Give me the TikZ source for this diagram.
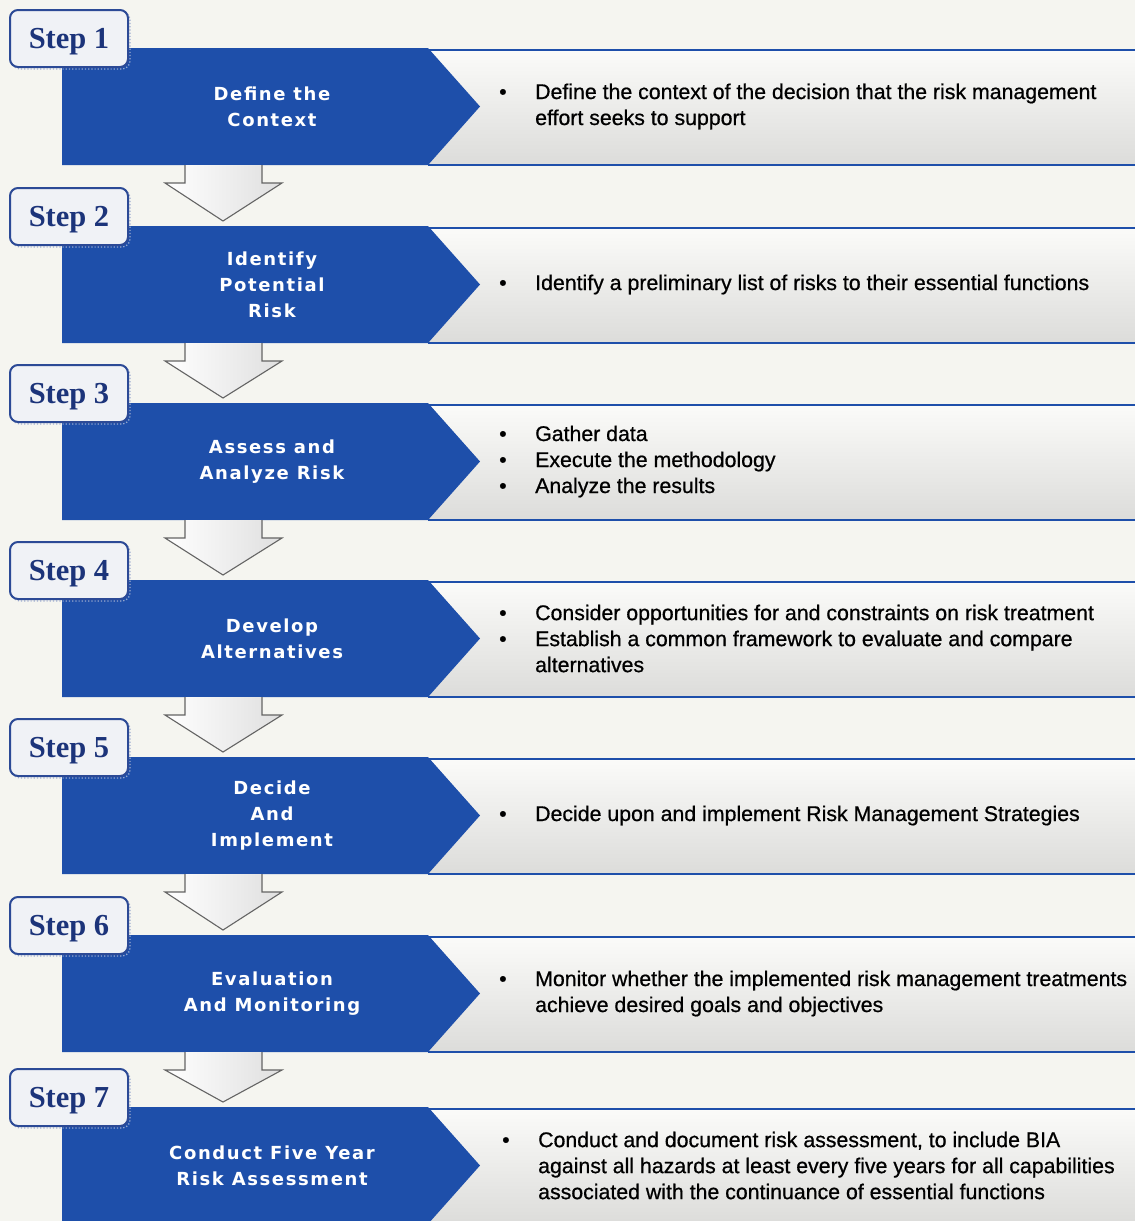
\documentclass[tikz,border=0pt]{standalone}
\usepackage{fontspec}
\setmainfont{Liberation Sans}
\newfontfamily\rightfont{Liberation Sans}[FakeBold=0.7]
\newfontfamily\stepfont{Liberation Serif}
\newfontfamily\labfont{DejaVu Sans}[LetterSpace=9]
\definecolor{bgc}{RGB}{245,245,240}
\definecolor{blu}{RGB}{30,79,170}
\definecolor{navy}{RGB}{28,52,122}
\definecolor{lblu}{RGB}{44,74,150}
\definecolor{boxfill}{RGB}{240,242,246}
\definecolor{bandtop}{RGB}{251,251,249}
\definecolor{bandbot}{RGB}{220,220,218}
\definecolor{arrg}{RGB}{100,100,100}
\newcommand\bul{\makebox[36pt][l]{\textbullet}}
\newcommand\nob{\hspace*{36pt}}
\newcommand\steprow[4]{%
  \shade[top color=bandtop,bottom color=bandbot] (428,#2+2) rectangle (1135,#2+117);
  \draw[bandline] (428,#2+2) -- (1135,#2+2);
  \draw[bandline] (428,#2+117) -- (1135,#2+117);
  \fill[blu] (62,#2) -- (428,#2) -- (480,#2+58.5) -- (428,#2+117) -- (62,#2+117) -- cycle;
  \node[bluetext] (b#1) at (272,#2+58.5) {#3};
  \node[righttext] (t#1) at (499,#2+58.5) {#4};
}
\newcommand\stepbadge[2]{%
  \draw[badgeshadow] (12,#2-36) rectangle (130,#2+21);
  \node[stepbox] (s#1) at (69,#2-9.5) {Step #1};
}
\newcommand\downarr[2]{%
  \shadedraw[arrowshape] (185,#1) -- (185,#1+18) -- (165,#1+18) -- (223,#2-5) -- (282,#1+18) -- (262,#1+18) -- (262,#1);
}
\begin{document}
\begin{tikzpicture}[x=1pt,y=-1pt,
  bandline/.style={blu, line width=2.6},
  bluetext/.style={text=white, align=center, inner sep=0,
    font=\labfont\bfseries\fontsize{18}{26}\selectfont},
  righttext/.style={anchor=west, align=left, inner sep=0, text=black,
    font=\rightfont\fontsize{21.3}{26}\selectfont},
  stepbox/.style={draw=lblu, line width=2, fill=boxfill, rounded corners=8,
    minimum width=118, minimum height=57, inner sep=0, text depth=0pt, text=navy,
    font=\stepfont\bfseries\fontsize{30.5}{30}\selectfont},
  badgeshadow/.style={draw=lblu!45, line width=1.2, dotted, rounded corners=8},
  arrowshape/.style={draw=arrg, line width=1.1, left color=white, right color=gray!25}
]
\fill[bgc] (0,0) rectangle (1135,1221);
\useasboundingbox (0,0) rectangle (1135,1221);

\steprow{1}{48}{Define the\\Context}{\bul Define the context of the decision that the risk management\\\nob effort seeks to support}
\steprow{2}{226}{Identify\\Potential\\Risk}{\bul Identify a preliminary list of risks to their essential functions}
\steprow{3}{403}{Assess and\\Analyze Risk}{\bul Gather data\\\bul Execute the methodology\\\bul Analyze the results}
\steprow{4}{580}{Develop\\Alternatives}{\bul Consider opportunities for and constraints on risk treatment\\\bul Establish a common framework to evaluate and compare\\\nob alternatives}
\steprow{5}{757}{Decide\\And\\Implement}{\bul Decide upon and implement Risk Management Strategies}
\steprow{6}{935}{Evaluation\\And Monitoring}{\bul Monitor whether the implemented risk management treatments\\\nob achieve desired goals and objectives}
\steprow{7}{1107}{Conduct Five Year\\Risk Assessment}{\hspace*{3pt}\bul Conduct and document risk assessment, to include BIA\\\hspace*{3pt}\nob against all hazards at least every five years for all capabilities\\\hspace*{3pt}\nob associated with the continuance of essential functions}

\downarr{165}{226}
\downarr{343}{403}
\downarr{520}{580}
\downarr{697}{757}
\downarr{874}{935}
\downarr{1052}{1107}

\stepbadge{1}{48}
\stepbadge{2}{226}
\stepbadge{3}{403}
\stepbadge{4}{580}
\stepbadge{5}{757}
\stepbadge{6}{935}
\stepbadge{7}{1107}
\end{tikzpicture}
\end{document}
